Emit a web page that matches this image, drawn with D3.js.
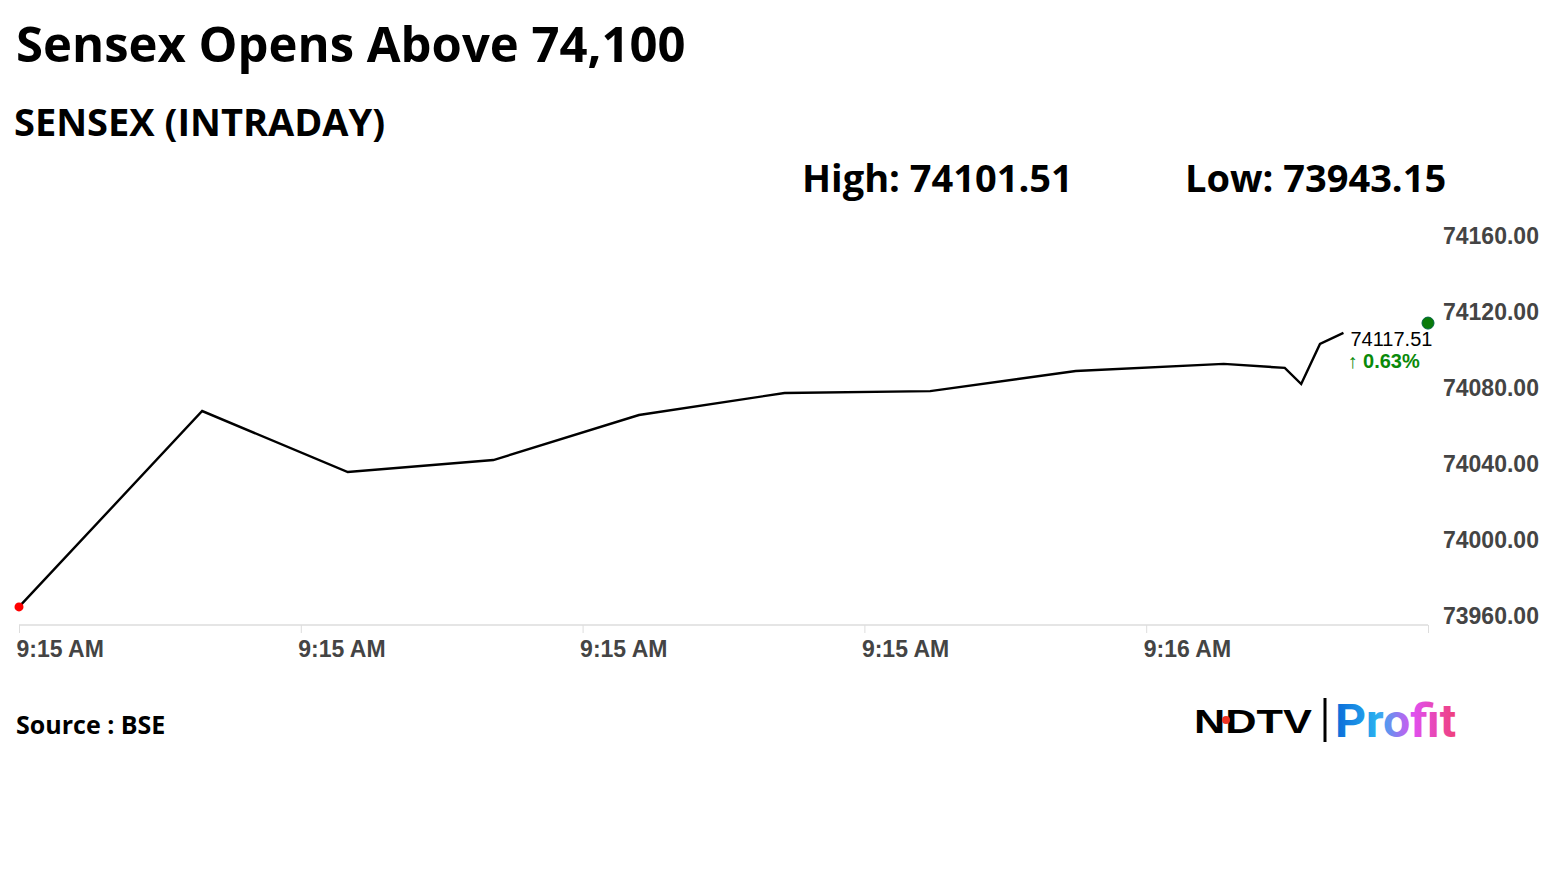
<!DOCTYPE html>
<html>
<head>
<meta charset="utf-8">
<script src="https://cdn.jsdelivr.net/npm/d3@7"></script>
<style>
  body { margin: 0; background: #fff; }
  text { font-family: "Open Sans", sans-serif; }
</style>
</head>
<body>
<div id="chart"></div>
<script>
// Data (time in seconds after 9:15:00)
const times = [0, 7.8, 14, 20.2, 26.4, 32.6, 38.8, 45, 51.3, 53.9, 54.6, 55.4, 56.4]
const prices = [73965.3, 74068.4, 74036.3, 74042.6, 74066.3, 74077.9, 74078.9, 74089.5, 74093.2, 74091.1, 74082.6, 74103.7, 74109.5]
const lastTime = 60
const lastPrice = 74114.7
const xTicks = [0, 12, 24, 36, 48]
const xTickLabels = ['9:15 AM', '9:15 AM', '9:15 AM', '9:15 AM', '9:16 AM']
const yTicks = [73960, 74000, 74040, 74080, 74120, 74160]
const title = 'Sensex Opens Above 74,100'
const subtitle = 'SENSEX (INTRADAY)'
const highText = 'High: 74101.51'
const lowText = 'Low: 73943.15'
const lastLabel = '74117.51'
const changeLabel = '\u2191 0.63%'

const width = 1555, height = 874

const svg = d3.select('#chart')
  .append('svg')
  .attr('width', width)
  .attr('height', height)

svg.append('text').attr('x', 16).attr('y', 62)
  .attr('font-size', 49).attr('font-weight', 700).attr('fill', '#000').text(title)
svg.append('text').attr('x', 14).attr('y', 136)
  .attr('font-size', 38).attr('font-weight', 700).attr('fill', '#000').text(subtitle)
svg.append('text').attr('x', 802).attr('y', 192)
  .attr('font-size', 38).attr('font-weight', 700).attr('fill', '#000').text(highText)
svg.append('text').attr('x', 1185).attr('y', 192)
  .attr('font-size', 38).attr('font-weight', 700).attr('fill', '#000').text(lowText)

// Scales
const xScale = d3.scaleLinear().domain([0, 60]).range([19, 1428])
const yScale = d3.scaleLinear().domain([73960, 74160]).range([617, 237])

// x axis baseline
svg.append('line')
  .attr('x1', 19).attr('x2', 1428)
  .attr('y1', 625).attr('y2', 625)
  .attr('stroke', '#ddd').attr('stroke-width', 1.5)

const xAxis = svg.append('g')
  .attr('transform', 'translate(0,625)')
  .call(d3.axisBottom(xScale).tickValues(xTicks.concat([60]))
    .tickFormat((d, i) => xTickLabels[i] || '').tickSize(8).tickPadding(8))
xAxis.select('.domain').remove()
xAxis.selectAll('line').attr('stroke', '#ddd')
xAxis.selectAll('text')
  .attr('text-anchor', 'start').attr('dx', -3)
  .style('font-family', '"Liberation Sans", Arial, sans-serif')
  .attr('font-size', 23).attr('font-weight', 'bold').attr('fill', '#444')

const yAxis = svg.append('g')
  .attr('transform', 'translate(1443,0)')
  .call(d3.axisRight(yScale).tickValues(yTicks).tickFormat(d3.format('.2f')).tickSize(0).tickPadding(0))
yAxis.select('.domain').remove()
yAxis.selectAll('text')
  .attr('dy', '0.3em')
  .style('font-family', '"Liberation Sans", Arial, sans-serif')
  .attr('font-size', 23).attr('font-weight', 'bold').attr('fill', '#444')

// Line
const line = d3.line().x((d, i) => xScale(times[i])).y(d => yScale(d))
svg.append('path')
  .datum(prices)
  .attr('d', line)
  .attr('fill', 'none')
  .attr('stroke', '#000')
  .attr('stroke-width', 2.4)

svg.append('circle')
  .attr('cx', xScale(times[0])).attr('cy', yScale(prices[0]))
  .attr('r', 4.5).attr('fill', 'red')
svg.append('circle')
  .attr('cx', xScale(lastTime)).attr('cy', yScale(lastPrice))
  .attr('r', 6).attr('fill', '#0a7a0a').attr('stroke', '#064').attr('stroke-width', 1)

const lx = xScale(times[times.length - 1]) + 7
svg.append('text').attr('x', lx).attr('y', 346)
  .style('font-family', '"Liberation Sans", Arial, sans-serif')
  .attr('font-size', 20).attr('fill', '#000').text(lastLabel)
svg.append('text').attr('x', lx - 3).attr('y', 368)
  .style('font-family', '"Liberation Sans", Arial, sans-serif')
  .attr('font-size', 20).attr('font-weight', 'bold').attr('fill', '#0a8a0a').text(changeLabel)

// Footer
svg.append('text').attr('x', 16).attr('y', 734)
  .attr('font-size', 25).attr('font-weight', 700).attr('fill', '#000').text('Source : BSE')

const logo = svg.append('g')
logo.append('text').attr('x', 1194).attr('y', 733)
  .style('font-family', '"Liberation Sans", Arial, sans-serif')
  .attr('font-size', 34).attr('font-weight', 900).attr('fill', '#000')
  .attr('textLength', 118).attr('lengthAdjust', 'spacingAndGlyphs').text('NDTV')
logo.append('circle').attr('cx', 1226).attr('cy', 720).attr('r', 4).attr('fill', '#e32')
logo.append('line').attr('x1', 1325).attr('x2', 1325).attr('y1', 698).attr('y2', 742)
  .attr('stroke', '#000').attr('stroke-width', 3)
const grad = svg.append('defs').append('linearGradient').attr('id', 'pg')
grad.append('stop').attr('offset', '0%').attr('stop-color', '#0a6ad8')
grad.append('stop').attr('offset', '35%').attr('stop-color', '#2ab0f0')
grad.append('stop').attr('offset', '65%').attr('stop-color', '#e050f0')
grad.append('stop').attr('offset', '100%').attr('stop-color', '#f0407a')
logo.append('text').attr('x', 1335).attr('y', 737)
  .style('font-family', 'Roboto, sans-serif')
  .attr('font-size', 46).attr('font-weight', 'bold').attr('fill', 'url(#pg)')
  .attr('textLength', 121).attr('lengthAdjust', 'spacingAndGlyphs').text('Profit')
</script>
</body>
</html>
